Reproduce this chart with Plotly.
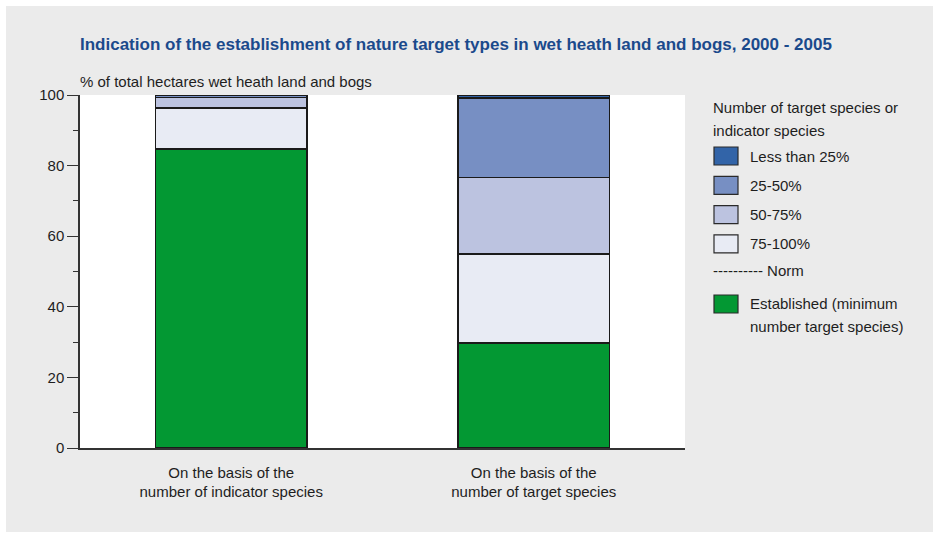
import plotly.graph_objects as go

# Categories (x axis) and stacked shares, % of total hectares
categories = ["indicator", "target"]
category_labels = ["On the basis of the<br>number of indicator species",
                   "On the basis of the<br>number of target species"]

established = [84.7, 29.7]
share_75_100 = [11.6, 25.3]
share_50_75 = [3.0, 21.7]
share_25_50 = [0.5, 22.5]
share_lt_25 = [0.2, 0.8]

y_ticks = [0, 20, 40, 60, 80, 100]

TXT = "#1e1e1e"
OUTLINE = "#1a1a1a"
FONT = "Liberation Sans, Arial, sans-serif"
FS = 15

# Figure geometry (pixels) used to place panel and key items
W, H = 938, 533
M_L, M_R, M_T, M_B = 80, 253, 95, 85
PW, PH = W - M_L - M_R, H - M_T - M_B


def px_x(px):
    return (px - M_L) / PW


def px_y(py):
    return (H - M_B - py) / PH


fig = go.Figure()

# Stacked from the bottom up
series = [
    ("Established (minimum<br>number target species)", established, "#039833"),
    ("75-100%", share_75_100, "#e8ebf4"),
    ("50-75%", share_50_75, "#bcc3e0"),
    ("25-50%", share_25_50, "#778fc3"),
    ("Less than 25%", share_lt_25, "#3264a8"),
]
for name, vals, color in series:
    fig.add_trace(go.Bar(
        x=categories, y=vals, name=name.replace("<br>", " "),
        marker=dict(color=color, line=dict(color=OUTLINE, width=1.5)),
        showlegend=False,
        hovertemplate="%{y}%<extra>%{fullData.name}</extra>",
    ))

# Panel background and white plot area
fig.add_shape(type="rect", xref="paper", yref="paper",
              x0=px_x(6), x1=px_x(933), y0=px_y(532), y1=px_y(6),
              fillcolor="#ebebeb", line=dict(width=0), layer="below")
fig.add_shape(type="rect", xref="x domain", yref="y domain",
              x0=0, x1=1, y0=0, y1=1,
              fillcolor="white", line=dict(width=0), layer="below")

# Axis caption
fig.add_annotation(text="% of total hectares wet heath land and bogs",
                   xref="paper", yref="paper", x=px_x(78), y=px_y(82),
                   xanchor="left", yanchor="middle", showarrow=False,
                   font=dict(size=FS, color=TXT, family=FONT))


def key_text(text, x, y):
    fig.add_annotation(text=text, xref="paper", yref="paper",
                       x=px_x(x - 2), y=px_y(y), xanchor="left", yanchor="middle",
                       showarrow=False, font=dict(size=FS, color=TXT, family=FONT))


def key_box(color, y):
    fig.add_shape(type="rect", xref="paper", yref="paper",
                  x0=px_x(714), x1=px_x(738), y0=px_y(y + 9), y1=px_y(y - 9),
                  fillcolor=color, line=dict(color="#2a2a2a", width=1.2))


# Key
LINE = 23
key_text("Number of target species or", 713, 107)
key_text("indicator species", 713, 107 + LINE)
key_rows = [series[4], series[3], series[2], series[1]]
for i, (name, _, color) in enumerate(key_rows):
    yc = 156 + i * 29.3
    key_box(color, yc)
    key_text(name, 750, yc)
key_text("---------- Norm", 713, 270)
est_name, _, est_color = series[0]
key_box(est_color, 304)
for j, part in enumerate(est_name.split("<br>")):
    key_text(part, 750, 303 + j * LINE)

fig.update_layout(
    width=W, height=H,
    margin=dict(l=M_L, r=M_R, t=M_T, b=M_B),
    paper_bgcolor="white",
    plot_bgcolor="rgba(0,0,0,0)",
    barmode="stack",
    bargap=0.5,
    showlegend=False,
    font=dict(family=FONT, size=FS, color=TXT),
    title=dict(
        text="<b>Indication of the establishment of nature target types in wet heath land and bogs, 2000 - 2005</b>",
        xref="paper", x=0, xanchor="left",
        yref="container", y=1 - 44 / H, yanchor="middle",
        font=dict(family="Liberation Sans Narrow, Arial Narrow, Liberation Sans, sans-serif",
                  size=17, color="#1b4a8c"),
    ),
    xaxis=dict(
        tickmode="array", tickvals=categories, ticktext=category_labels,
        range=[-0.5, 1.5],
        showline=True, linecolor="#333333", linewidth=1.5,
        ticks="", showgrid=False, zeroline=False,
        ticklabelstandoff=10,
        tickfont=dict(size=FS, color=TXT),
    ),
    yaxis=dict(
        range=[0, 100],
        tickmode="array", tickvals=y_ticks,
        showline=True, linecolor="#333333", linewidth=1.5,
        ticks="outside", ticklen=11, tickwidth=1.2, tickcolor="#333333",
        minor=dict(dtick=10, ticks="outside", ticklen=5, tickwidth=1, tickcolor="#333333"),
        showgrid=False, zeroline=False,
        tickfont=dict(size=FS, color=TXT),
    ),
)

fig.write_html("out.html")
